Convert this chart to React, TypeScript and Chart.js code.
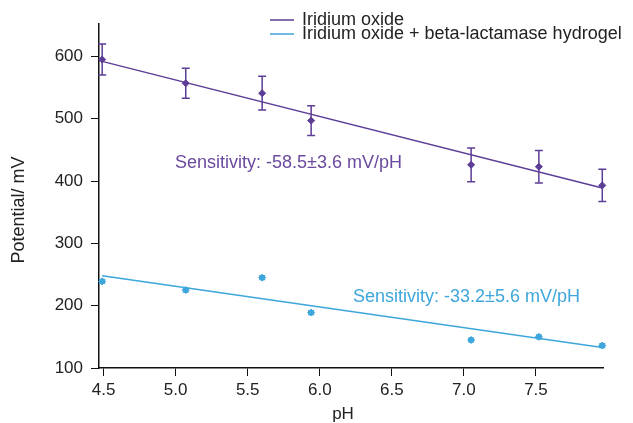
import React, { useEffect, useRef } from "react";
import { Chart, registerables } from "chart.js";

Chart.register(...registerables);

const phValues = [4.49, 5.07, 5.6, 5.94, 7.05, 7.52, 7.96];
const iroxMean = [595, 557, 541, 497, 426, 423, 393];
const iroxErr = [25, 24, 27, 24, 27, 26, 26];
const hydroMean = [239, 225, 245, 189, 145, 150, 136];
const hydroErr = [3, 3, 3, 3, 3, 3, 3];
const iroxFitX = [4.49, 7.96];
const iroxFitY = [592, 389];
const hydroFitX = [4.49, 7.96];
const hydroFitY = [248, 133];
const xTicks = [4.5, 5.0, 5.5, 6.0, 6.5, 7.0, 7.5];
const yTicks = [100, 200, 300, 400, 500, 600];
const legendLabels = ["Iridium oxide", "Iridium oxide + beta-lactamase hydrogel"];
const sensLabels = ["Sensitivity: -58.5±3.6 mV/pH", "Sensitivity: -33.2±5.6 mV/pH"];

const PURPLE = "#5d3d96";
const BLUE = "#3ea6db";
const FONT = "'Liberation Sans', Arial, sans-serif";

export default function App() {
  const ref = useRef<HTMLCanvasElement>(null);
  useEffect(() => {
    const errorBars = {
      id: "errorBars",
      afterDatasetsDraw(chart: any) {
        const ctx = chart.ctx;
        const xs = chart.scales.x;
        const ys = chart.scales.y;
        const sets = [
          { m: iroxMean, e: iroxErr, c: PURPLE, cap: 4 },
          { m: hydroMean, e: hydroErr, c: BLUE, cap: 3 },
        ];
        ctx.save();
        sets.forEach((s) => {
          ctx.strokeStyle = s.c;
          ctx.lineWidth = 1.5;
          s.m.forEach((v, i) => {
            const px = xs.getPixelForValue(phValues[i]);
            const top = ys.getPixelForValue(v + s.e[i]);
            const bot = ys.getPixelForValue(v - s.e[i]);
            ctx.beginPath();
            ctx.moveTo(px, top);
            ctx.lineTo(px, bot);
            ctx.moveTo(px - s.cap, top);
            ctx.lineTo(px + s.cap, top);
            ctx.moveTo(px - s.cap, bot);
            ctx.lineTo(px + s.cap, bot);
            ctx.stroke();
          });
        });
        ctx.restore();
      },
    };
    const texts = {
      id: "texts",
      afterDraw(chart: any) {
        const ctx = chart.ctx;
        ctx.save();
        ctx.font = `18px ${FONT}`;
        ctx.textBaseline = "middle";
        const cols = [PURPLE, BLUE];
        legendLabels.forEach((t, i) => {
          const y = 20 + i * 14;
          ctx.strokeStyle = cols[i];
          ctx.lineWidth = 1.5;
          ctx.beginPath();
          ctx.moveTo(270, y);
          ctx.lineTo(294, y);
          ctx.stroke();
          ctx.fillStyle = "#222";
          ctx.textAlign = "left";
          ctx.fillText(t, 302, y);
        });
        ctx.fillStyle = "#6a4a9e";
        ctx.fillText(sensLabels[0], 175, 163);
        ctx.fillStyle = BLUE;
        ctx.fillText(sensLabels[1], 353, 297);
        ctx.fillStyle = "#222";
        ctx.font = `17px ${FONT}`;
        ctx.textAlign = "center";
        ctx.fillText("pH", 343, 414);
        ctx.font = `18px ${FONT}`;
        ctx.translate(19, 210);
        ctx.rotate(-Math.PI / 2);
        ctx.fillText("Potential/ mV", 0, 0);
        ctx.restore();
      },
    };
    const chart = new Chart(ref.current!, {
      type: "scatter",
      data: {
        datasets: [
          {
            label: legendLabels[0],
            data: phValues.map((x, i) => ({ x, y: iroxMean[i] })),
            backgroundColor: PURPLE,
            borderColor: PURPLE,
            pointStyle: "rectRot",
            pointRadius: 3.5,
            clip: false,
          } as any,
          {
            label: legendLabels[1],
            data: phValues.map((x, i) => ({ x, y: hydroMean[i] })),
            backgroundColor: BLUE,
            borderColor: BLUE,
            pointStyle: "rectRot",
            pointRadius: 3.5,
            clip: false,
          } as any,
          {
            type: "line",
            label: "fit1",
            data: iroxFitX.map((x, i) => ({ x, y: iroxFitY[i] })),
            borderColor: PURPLE,
            borderWidth: 1.5,
            pointRadius: 0,
            showLine: true,
            clip: false,
          } as any,
          {
            type: "line",
            label: "fit2",
            data: hydroFitX.map((x, i) => ({ x, y: hydroFitY[i] })),
            borderColor: BLUE,
            borderWidth: 1.5,
            pointRadius: 0,
            showLine: true,
            clip: false,
          } as any,
        ],
      },
      plugins: [errorBars, texts],
      options: {
        animation: false,
        responsive: false,
        layout: { padding: { left: 0, top: 24, right: 30, bottom: 0 } },
        plugins: { legend: { display: false }, tooltip: { enabled: false } },
        scales: {
          x: {
            type: "linear",
            min: 4.468,
            max: 7.965,
            afterBuildTicks: (s: any) => {
              s.ticks = xTicks.map((v) => ({ value: v }));
            },
            afterFit: (s: any) => {
              s.height = 55;
            },
            grid: { drawOnChartArea: false, drawTicks: true, tickLength: 8, color: "#111" },
            border: { display: true, color: "#111", width: 1.5 },
            ticks: {
              maxRotation: 0,
              autoSkip: false,
              padding: 4,
              color: "#222",
              font: { family: FONT, size: 17 },
              callback: (v: any) => Number(v).toFixed(1),
            },
          },
          y: {
            type: "linear",
            min: 100,
            max: 652,
            afterBuildTicks: (s: any) => {
              s.ticks = yTicks.map((v) => ({ value: v }));
            },
            afterFit: (s: any) => {
              s.width = 99;
            },
            grid: { drawOnChartArea: false, drawTicks: true, tickLength: 8, color: "#111" },
            border: { display: true, color: "#111", width: 1.5 },
            ticks: {
              padding: 8,
              color: "#222",
              font: { family: FONT, size: 17 },
            },
          },
        },
      },
    });
    return () => chart.destroy();
  }, []);
  return (
    <div style={{ position: "fixed", left: 0, top: 0, width: 633, height: 423, background: "#fff" }}>
      <canvas ref={ref} width={633} height={423} />
    </div>
  );
}
